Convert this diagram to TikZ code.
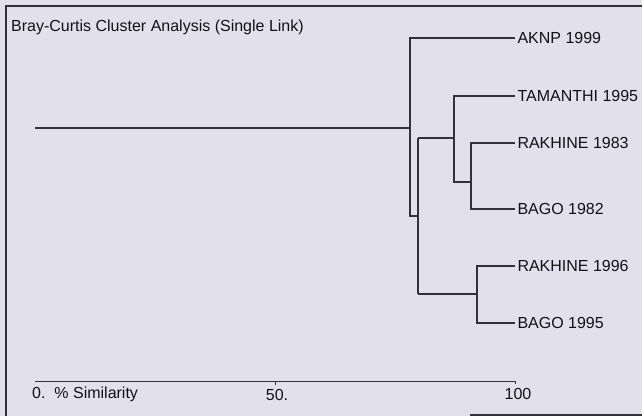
\documentclass[tikz,border=0pt]{standalone}
\usepackage{fontspec}
\setmainfont{Liberation Sans}
\definecolor{bgcol}{RGB}{225,224,236}
\definecolor{linecol}{RGB}{50,50,58}
\definecolor{txtcol}{RGB}{18,18,22}
\begin{document}
\begin{tikzpicture}[x=1pt,y=-1pt,
  tree/.style={draw=linecol,line width=1.1pt},
  frame/.style={draw=linecol,line width=1.2pt},
  leaf/.style={anchor=west,inner xsep=2.5pt,inner ysep=0pt,outer sep=0pt,text=txtcol,font=\fontsize{16}{18}\selectfont},
  axlab/.style={inner sep=0pt,text=txtcol,font=\fontsize{16}{18}\selectfont}]
\fill[bgcol] (0,0) rectangle (642,416);
\useasboundingbox (0,0) rectangle (642,416);
% frame
\coordinate (ftl) at (6,6);
\coordinate (ftr) at (642,6);
\coordinate (fbl) at (6,416);
\coordinate (fbs) at (470,415);
\coordinate (fbr) at (642,415);
\draw[frame] (ftr) -- (ftl) -- (fbl);
\draw[frame] (fbs) -- (fbr);
% title
\node[anchor=west,inner sep=0pt,text=txtcol,font=\fontsize{16}{18}\selectfont] (title) at (11,27) {Bray-Curtis Cluster Analysis (Single Link)};
% leaves
\node[leaf] (l1) at (515,38) {AKNP 1999};
\node[leaf] (l2) at (515,96) {TAMANTHI 1995};
\node[leaf] (l3) at (515,143) {RAKHINE 1983};
\node[leaf] (l4) at (515,209) {BAGO 1982};
\node[leaf] (l5) at (515,266) {RAKHINE 1996};
\node[leaf] (l6) at (515,323) {BAGO 1995};
% junction coordinates
\coordinate (root) at (35,128);
\coordinate (m) at (410,128);
\coordinate (mt) at (410,38);
\coordinate (mb) at (410,216);
\coordinate (s) at (418,216);
\coordinate (st) at (418,138);
\coordinate (sb) at (418,294);
\coordinate (tt) at (454,96);
\coordinate (tm) at (454,138);
\coordinate (tb) at (454,182);
\coordinate (ft) at (471,143);
\coordinate (fm) at (471,182);
\coordinate (fb) at (471,209);
\coordinate (gt) at (477,266);
\coordinate (gm) at (477,294);
\coordinate (gb) at (477,323);
% tree
\draw[tree] (root) -- (m);
\draw[tree] (l1.west) -- (mt) -- (mb) -- (s);
\draw[tree] (st) -- (sb);
\draw[tree] (st) -- (tm);
\draw[tree] (l2.west) -- (tt) -- (tb) -- (fm);
\draw[tree] (l3.west) -- (ft) -- (fb) -- (l4.west);
\draw[tree] (sb) -- (gm);
\draw[tree] (l5.west) -- (gt) -- (gb) -- (l6.west);
% axis
\coordinate (a0) at (35,381);
\coordinate (a50) at (275,381);
\coordinate (a50d) at (275,385);
\coordinate (a100) at (515,381);
\coordinate (a100d) at (515,384);
\draw[tree,line width=0.8pt] (a0) -- (a100) -- (a100d);
\draw[tree,line width=0.8pt] (a50) -- (a50d);
\node[axlab,anchor=west] (lab0) at (32,394) {0.\ \ \% Similarity};
\node[axlab] (lab50) at (277,395) {50.};
\node[axlab] (lab100) at (518,394) {100};
\end{tikzpicture}
\end{document}
